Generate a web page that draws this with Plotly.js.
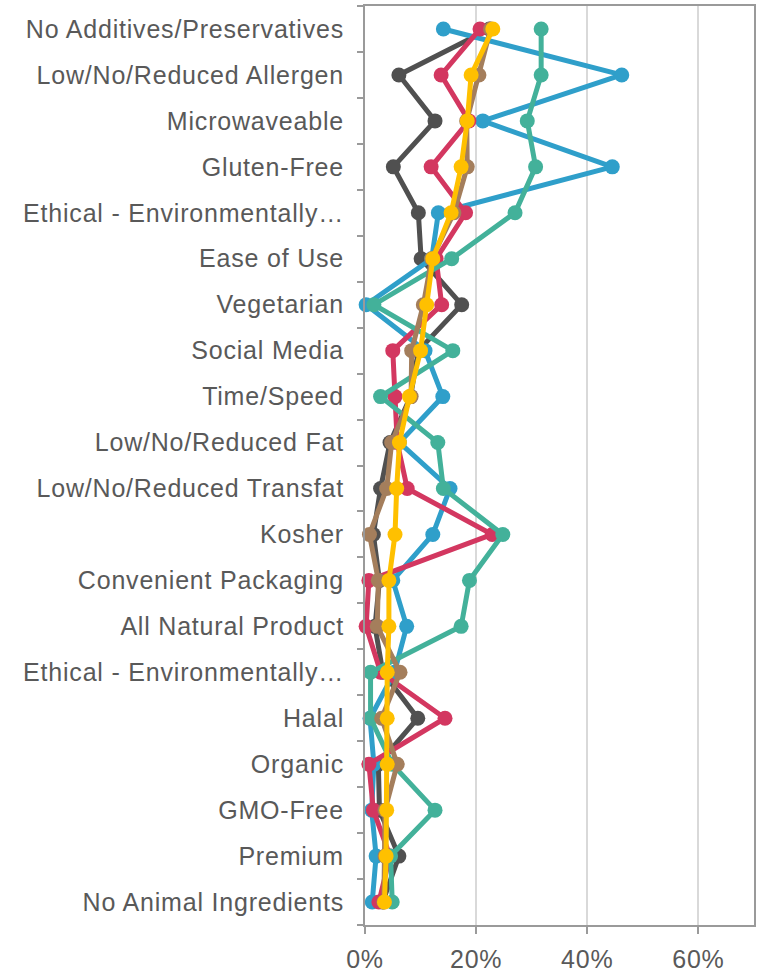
<!DOCTYPE html>
<html>
<head>
<meta charset="utf-8">
<script src="https://cdn.plot.ly/plotly-3.0.1.min.js"></script>
<style>
  html, body { margin: 0; padding: 0; background: #ffffff; }
  #chart { width: 758px; height: 974px; }
  /* slightly looser label spacing */
  #chart .ytick text, #chart .xtick text { letter-spacing: 0.8px; }
</style>
</head>
<body>
<div id="chart"></div>
<script>
// Claim categories, listed top to bottom
const categories = [
  "No Additives/Preservatives",
  "Low/No/Reduced Allergen",
  "Microwaveable",
  "Gluten-Free",
  "Ethical - Environmentally\u2026",
  "Ease of Use",
  "Vegetarian",
  "Social Media",
  "Time/Speed",
  "Low/No/Reduced Fat",
  "Low/No/Reduced Transfat",
  "Kosher",
  "Convenient Packaging",
  "All Natural Product",
  "Ethical - Environmentally\u2026",
  "Halal",
  "Organic",
  "GMO-Free",
  "Premium",
  "No Animal Ingredients"
];

// Share of launches per claim (%), one array per series
const seriesBlue   = [14.1, 46.2, 21.2, 44.5, 13.2, 12.0,  0.2, 10.8, 14.0,  6.2, 15.3, 12.2,  5.0,  7.5,  5.3,  0.9,  1.6,  1.2,  2.0,  1.3];
const seriesGray   = [22.4,  6.1, 12.6,  5.1,  9.6, 10.1, 17.4,  9.6,  8.2,  4.5,  2.8,  1.5,  2.6,  1.8,  3.2,  9.5,  2.4,  2.6,  6.1,  3.2];
const seriesPink   = [20.7, 13.7, 18.7, 11.9, 18.1, 12.8, 13.8,  5.0,  5.4,  5.8,  7.6, 22.9,  0.7,  0.2,  2.8, 14.4,  0.7,  1.5,  4.5,  2.5];
const seriesTeal   = [31.7, 31.7, 29.2, 30.7, 27.0, 15.6,  1.6, 15.8,  2.8, 13.1, 14.1, 24.8, 18.8, 17.3,  1.0,  1.0,  4.9, 12.6,  4.6,  4.9];
const seriesBrown  = [22.6, 20.5, 18.3, 18.4, 16.0, 12.0, 10.5,  8.4,  8.3,  4.8,  3.9,  0.8,  2.4,  2.2,  6.3,  3.0,  5.8,  3.6,  3.6,  3.4];
const seriesYellow = [23.0, 19.1, 18.4, 17.3, 15.5, 12.2, 11.1, 10.0,  8.0,  6.2,  5.7,  5.4,  4.3,  4.3,  4.0,  4.0,  4.0,  3.9,  3.8,  3.5];

const xTickVals = [0, 20, 40, 60];
const xTickText = ["0%", "20%", "40%", "60%"];

// Two labels share the same truncated text, so each row gets a unique key
const rowKeys = categories.map((c, i) => "r" + i);
// Row boundaries, where the category ticks sit
const rowBounds = Array.from({ length: categories.length + 1 }, (_, i) => i - 0.5);

const seriesDefs = [
  { name: "Series 1", values: seriesGray,   color: "#505050" },
  { name: "Series 2", values: seriesBlue,   color: "#2F9FCA" },
  { name: "Series 3", values: seriesPink,   color: "#D33760" },
  { name: "Series 4", values: seriesTeal,   color: "#43B19A" },
  { name: "Series 5", values: seriesBrown,  color: "#A47E5C" },
  { name: "Series 6", values: seriesYellow, color: "#FFC000" }
];

const traces = seriesDefs.map(s => ({
  type: "scatter",
  mode: "lines+markers",
  name: s.name,
  x: s.values,
  y: rowKeys,
  line: { color: s.color, width: 5 },
  marker: { color: s.color, size: 15 },
  cliponaxis: false,
  hoverinfo: "x+name"
}));

// empty trace that carries the boundary-tick axis
traces.unshift({ type: "scatter", x: [], y: [], yaxis: "y2", showlegend: false, hoverinfo: "skip" });

const fontFamily = "'Liberation Sans', Arial, sans-serif";
const axisGray = "#9A9A9A";

const layout = {
  width: 758,
  height: 974,
  margin: { l: 365, r: 4, t: 6, b: 49 },
  paper_bgcolor: "#ffffff",
  plot_bgcolor: "#ffffff",
  showlegend: false,
  font: { family: fontFamily, size: 25, color: "#595959" },
  xaxis: {
    range: [0, 70],
    tickmode: "array",
    tickvals: xTickVals,
    ticktext: xTickText,
    showgrid: true,
    gridcolor: "#D9D9D9",
    gridwidth: 2,
    zeroline: false,
    showline: true,
    linecolor: axisGray,
    linewidth: 2,
    mirror: true,
    ticks: "outside",
    ticklen: 7,
    tickwidth: 2,
    tickcolor: axisGray,
    ticklabelstandoff: 4,
    tickfont: { family: fontFamily, size: 25, color: "#595959" },
    fixedrange: true
  },
  yaxis: {
    type: "category",
    categoryorder: "array",
    categoryarray: rowKeys,
    range: [19.5, -0.5],
    tickmode: "array",
    tickvals: rowKeys,
    ticktext: categories,
    ticks: "",
    showgrid: false,
    zeroline: false,
    showline: true,
    linecolor: axisGray,
    linewidth: 2,
    mirror: true,
    ticklabelstandoff: 14,
    tickfont: { family: fontFamily, size: 25, color: "#595959" },
    fixedrange: true
  },
  yaxis2: {
    overlaying: "y",
    side: "left",
    anchor: "x",
    type: "linear",
    range: [19.5, -0.5],
    tickmode: "array",
    tickvals: rowBounds,
    showticklabels: false,
    ticks: "outside",
    ticklen: 7,
    tickwidth: 2,
    tickcolor: axisGray,
    showgrid: false,
    zeroline: false,
    showline: false,
    fixedrange: true
  }
};

Plotly.newPlot("chart", traces, layout, { displayModeBar: false, staticPlot: true });
</script>
</body>
</html>
